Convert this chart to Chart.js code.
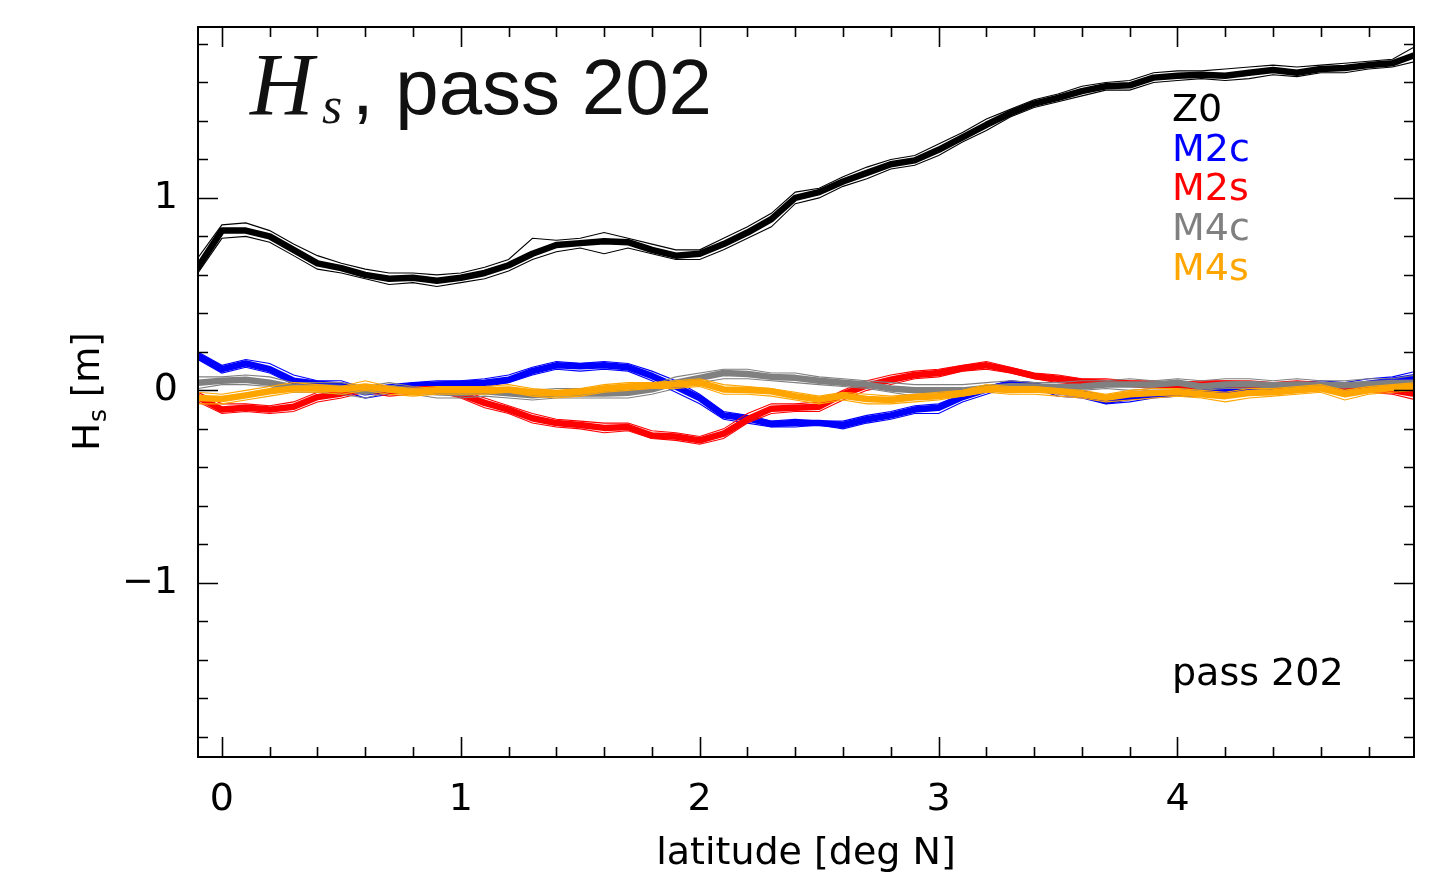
<!DOCTYPE html>
<html>
<head>
<meta charset="utf-8">
<script src="https://cdn.jsdelivr.net/npm/chart.js@4.4.1/dist/chart.umd.min.js"></script>
<style>
  html, body { margin: 0; padding: 0; background: #fff; }
  canvas { display: block; }
</style>
</head>
<body>
<canvas id="chart" width="1442" height="873"></canvas>
<script>
// latitude grid [deg N]
const lat = [-0.1, 0.0, 0.1, 0.2, 0.3, 0.4, 0.5, 0.6, 0.7, 0.8, 0.9, 1.0, 1.1, 1.2, 1.3, 1.4, 1.5, 1.6, 1.7, 1.8,
  1.9, 2.0, 2.1, 2.2, 2.3, 2.4, 2.5, 2.6, 2.7, 2.8, 2.9, 3.0, 3.1, 3.2, 3.3, 3.4, 3.5, 3.6, 3.7, 3.8,
  3.9, 4.0, 4.1, 4.2, 4.3, 4.4, 4.5, 4.6, 4.7, 4.8, 4.9, 5.0];

// Hs harmonics [m]: mean (thick) and two thin estimates
const z0 = [0.64, 0.83, 0.83, 0.80, 0.73, 0.66, 0.635, 0.60, 0.58, 0.585, 0.57, 0.585, 0.61, 0.65, 0.71, 0.755, 0.765, 0.775, 0.77, 0.73,
  0.70, 0.71, 0.76, 0.82, 0.89, 1.00, 1.03, 1.085, 1.13, 1.175, 1.195, 1.25, 1.315, 1.38, 1.44, 1.49, 1.52, 1.555, 1.58, 1.585,
  1.625, 1.635, 1.64, 1.635, 1.65, 1.665, 1.65, 1.67, 1.675, 1.69, 1.70, 1.745];
const z0Hi = [0.69, 0.86, 0.87, 0.83, 0.76, 0.70, 0.66, 0.63, 0.61, 0.61, 0.60, 0.61, 0.64, 0.68, 0.79, 0.78, 0.79, 0.82, 0.79, 0.76,
  0.73, 0.73, 0.79, 0.85, 0.92, 1.03, 1.05, 1.11, 1.16, 1.20, 1.22, 1.28, 1.34, 1.41, 1.46, 1.51, 1.54, 1.58, 1.60, 1.61,
  1.65, 1.66, 1.66, 1.67, 1.68, 1.69, 1.68, 1.69, 1.70, 1.71, 1.72, 1.79];
const z0Lo = [0.61, 0.79, 0.80, 0.77, 0.70, 0.63, 0.61, 0.58, 0.55, 0.56, 0.54, 0.56, 0.58, 0.62, 0.68, 0.72, 0.74, 0.71, 0.74, 0.71,
  0.68, 0.68, 0.73, 0.79, 0.85, 0.97, 1.00, 1.06, 1.10, 1.15, 1.17, 1.22, 1.29, 1.35, 1.42, 1.47, 1.50, 1.53, 1.56, 1.56,
  1.60, 1.61, 1.62, 1.61, 1.62, 1.64, 1.63, 1.65, 1.65, 1.67, 1.68, 1.71];

const m2c = [0.18, 0.11, 0.14, 0.11, 0.05, 0.035, 0.025, -0.01, 0.005, 0.025, 0.03, 0.035, 0.04, 0.055, 0.10, 0.13, 0.125, 0.13, 0.12, 0.075,
  0.02, -0.04, -0.13, -0.145, -0.175, -0.17, -0.17, -0.18, -0.15, -0.13, -0.10, -0.09, -0.035, 0.005, 0.035, 0.025, -0.005, -0.02, -0.055, -0.035,
  -0.02, -0.015, -0.01, 0.0, 0.0, 0.005, 0.02, 0.02, 0.015, 0.035, 0.05, 0.07];
const m2cHi = [0.20, 0.13, 0.16, 0.14, 0.08, 0.05, 0.05, 0.01, 0.03, 0.04, 0.05, 0.05, 0.06, 0.08, 0.12, 0.15, 0.14, 0.15, 0.14, 0.10,
  0.05, -0.02, -0.11, -0.13, -0.16, -0.15, -0.16, -0.16, -0.13, -0.11, -0.08, -0.07, -0.02, 0.02, 0.05, 0.04, 0.01, 0.0, -0.03, -0.01,
  0.0, 0.0, 0.01, 0.02, 0.03, 0.03, 0.04, 0.05, 0.04, 0.06, 0.07, 0.10];
const m2cLo = [0.16, 0.09, 0.12, 0.09, 0.03, 0.01, 0.00, -0.04, -0.02, 0.01, 0.01, 0.02, 0.02, 0.04, 0.08, 0.11, 0.10, 0.11, 0.10, 0.05,
  -0.01, -0.07, -0.15, -0.17, -0.19, -0.19, -0.18, -0.20, -0.17, -0.15, -0.12, -0.12, -0.06, -0.02, 0.02, 0.01, -0.03, -0.04, -0.07, -0.06,
  -0.04, -0.03, -0.03, -0.02, -0.02, -0.01, 0.0, 0.0, -0.01, 0.02, 0.03, 0.05];

const m2s = [-0.035, -0.10, -0.09, -0.10, -0.085, -0.035, -0.016, 0.01, -0.005, 0.0, 0.005, -0.02, -0.065, -0.10, -0.145, -0.17, -0.18, -0.195, -0.19, -0.235,
  -0.24, -0.26, -0.225, -0.15, -0.095, -0.09, -0.085, -0.02, 0.025, 0.055, 0.08, 0.09, 0.115, 0.13, 0.105, 0.075, 0.06, 0.045, 0.04, 0.035,
  0.03, 0.025, 0.03, 0.035, 0.03, 0.025, 0.03, 0.025, 0.02, 0.01, 0.0, -0.02];
const m2sHi = [-0.01, -0.07, -0.07, -0.08, -0.06, -0.01, 0.0, 0.03, 0.01, 0.02, 0.02, 0.0, -0.04, -0.08, -0.12, -0.15, -0.16, -0.17, -0.17, -0.21,
  -0.22, -0.24, -0.20, -0.12, -0.07, -0.07, -0.06, 0.0, 0.05, 0.08, 0.10, 0.11, 0.13, 0.15, 0.12, 0.09, 0.08, 0.06, 0.06, 0.05,
  0.05, 0.04, 0.05, 0.05, 0.05, 0.04, 0.05, 0.04, 0.04, 0.03, 0.02, 0.01];
const m2sLo = [-0.06, -0.12, -0.11, -0.12, -0.11, -0.06, -0.04, -0.01, -0.03, -0.02, -0.01, -0.04, -0.09, -0.12, -0.17, -0.19, -0.20, -0.22, -0.21, -0.25,
  -0.26, -0.28, -0.25, -0.17, -0.12, -0.11, -0.11, -0.05, 0.0, 0.03, 0.06, 0.07, 0.10, 0.11, 0.09, 0.06, 0.04, 0.03, 0.02, 0.02,
  0.01, 0.01, 0.01, 0.02, 0.01, 0.01, 0.01, 0.0, 0.0, -0.01, -0.02, -0.05];

const m4c = [0.04, 0.05, 0.055, 0.04, 0.015, 0.016, 0.012, -0.008, 0.012, 0.0, -0.01, -0.015, -0.005, -0.015, -0.026, -0.016, -0.016, -0.016, -0.012, 0.005,
  0.04, 0.065, 0.09, 0.085, 0.07, 0.065, 0.05, 0.04, 0.03, 0.01, 0.0, 0.0, 0.0, 0.012, 0.022, 0.02, 0.016, 0.02, 0.03, 0.03,
  0.03, 0.04, 0.02, 0.03, 0.033, 0.026, 0.03, 0.028, 0.026, 0.033, 0.038, 0.04];
const m4cHi = [0.07, 0.07, 0.08, 0.07, 0.04, 0.04, 0.04, 0.02, 0.04, 0.02, 0.01, 0.01, 0.02, 0.01, 0.0, 0.01, 0.01, 0.01, 0.01, 0.03,
  0.07, 0.09, 0.11, 0.11, 0.09, 0.09, 0.07, 0.06, 0.05, 0.04, 0.03, 0.03, 0.03, 0.04, 0.05, 0.04, 0.04, 0.05, 0.05, 0.06,
  0.05, 0.06, 0.05, 0.06, 0.06, 0.05, 0.06, 0.05, 0.05, 0.06, 0.06, 0.08];
const m4cLo = [0.01, 0.03, 0.03, 0.02, -0.01, -0.01, -0.02, -0.04, -0.01, -0.02, -0.04, -0.04, -0.03, -0.04, -0.05, -0.04, -0.04, -0.04, -0.04, -0.02,
  0.01, 0.04, 0.06, 0.06, 0.05, 0.04, 0.03, 0.02, 0.01, -0.01, -0.03, -0.02, -0.03, -0.01, 0.0, 0.0, -0.01, 0.0, 0.01, 0.0,
  0.01, 0.01, 0.0, 0.01, 0.01, 0.0, 0.01, 0.0, 0.0, 0.01, 0.01, 0.02];

const m4s = [-0.04, -0.045, -0.026, -0.005, 0.01, 0.01, 0.005, 0.02, 0.005, -0.01, 0.0, 0.0, 0.0, 0.005, -0.01, -0.016, -0.008, 0.01, 0.02, 0.026,
  0.03, 0.04, 0.005, 0.002, -0.005, -0.03, -0.048, -0.028, -0.045, -0.05, -0.036, -0.03, -0.015, 0.008, 0.002, 0.004, -0.005, -0.02, -0.038, -0.02,
  -0.014, -0.01, -0.02, -0.03, -0.014, -0.01, 0.0, 0.01, -0.02, 0.0, 0.012, 0.02];
const m4sHi = [-0.01, -0.02, 0.0, 0.02, 0.04, 0.03, 0.02, 0.05, 0.02, 0.01, 0.02, 0.02, 0.02, 0.03, 0.01, 0.0, 0.01, 0.03, 0.04, 0.04,
  0.05, 0.06, 0.03, 0.02, 0.01, -0.01, -0.03, -0.01, -0.02, -0.03, -0.02, -0.01, 0.0, 0.03, 0.02, 0.02, 0.01, 0.0, -0.02, 0.0,
  0.01, 0.01, 0.0, -0.01, 0.01, 0.01, 0.02, 0.03, 0.0, 0.02, 0.03, 0.04];
const m4sLo = [-0.07, -0.07, -0.05, -0.03, -0.01, -0.01, -0.02, 0.0, -0.02, -0.03, -0.02, -0.02, -0.02, -0.01, -0.03, -0.04, -0.03, -0.01, 0.0, 0.01,
  0.01, 0.02, -0.02, -0.02, -0.03, -0.05, -0.07, -0.05, -0.07, -0.07, -0.06, -0.05, -0.03, -0.01, -0.02, -0.02, -0.03, -0.04, -0.06, -0.05,
  -0.04, -0.03, -0.04, -0.06, -0.04, -0.03, -0.02, -0.01, -0.05, -0.02, -0.01, 0.0];

const seriesNames = ['Z0', 'M2c', 'M2s', 'M4c', 'M4s'];
const seriesColors = ['#000000', '#0000ff', '#ff0000', '#808080', '#ffa500'];
const seriesMean = [z0, m2c, m2s, m4c, m4s];
const seriesHi = [z0Hi, m2cHi, m2sHi, m4cHi, m4sHi];
const seriesLo = [z0Lo, m2cLo, m2sLo, m4cLo, m4sLo];

const xTicks = [0, 1, 2, 3, 4];
const yTicks = [-1, 0, 1];
const passLabel = 'pass 202';

const toPts = arr => arr.map((v, i) => ({ x: lat[i], y: v }));

const datasets = [];
seriesNames.forEach((name, k) => {
  [seriesHi[k], seriesLo[k]].forEach(arr => {
    datasets.push({ data: toPts(arr), borderColor: seriesColors[k], borderWidth: 1.1, pointRadius: 0 });
  });
  datasets.push({ label: name, data: toPts(seriesMean[k]), borderColor: seriesColors[k], borderWidth: 6.5,
    borderJoinStyle: 'round', borderCapStyle: 'round', pointRadius: 0 });
});
datasets.forEach((d, i) => { d.order = datasets.length - i; d.tension = 0; });

const FONT = '"DejaVu Sans", sans-serif';

const decor = {
  id: 'decor',
  afterDraw(chart) {
    const { ctx, chartArea: a } = chart;
    const xs = chart.scales.x, ys = chart.scales.y;
    ctx.save();
    ctx.strokeStyle = '#000';
    ctx.lineWidth = 2;
    ctx.strokeRect(a.left, a.top, a.right - a.left, a.bottom - a.top);

    // inward ticks on all four sides
    ctx.lineWidth = 1.6;
    ctx.beginPath();
    for (let i = 0; i <= 25; i++) {
      const v = i * 0.2;
      if (v > xs.max) break;
      const len = xTicks.some(t => Math.abs(t - v) < 1e-6) ? 20 : 10;
      const px = Math.round(xs.getPixelForValue(v)) + 0.5;
      ctx.moveTo(px, a.bottom); ctx.lineTo(px, a.bottom - len);
      ctx.moveTo(px, a.top); ctx.lineTo(px, a.top + len);
    }
    for (let i = -9; i <= 9; i++) {
      const v = i * 0.2;
      if (v < ys.min || v > ys.max) continue;
      const len = yTicks.some(t => Math.abs(t - v) < 1e-6) ? 20 : 10;
      const py = Math.round(ys.getPixelForValue(v)) + 0.5;
      ctx.moveTo(a.left, py); ctx.lineTo(a.left + len, py);
      ctx.moveTo(a.right, py); ctx.lineTo(a.right - len, py);
    }
    ctx.stroke();

    // big title
    ctx.fillStyle = '#111';
    ctx.textBaseline = 'alphabetic';
    ctx.textAlign = 'left';
    ctx.font = 'italic 88px "Liberation Serif", serif';
    ctx.fillText('H', 250, 114);
    ctx.font = 'italic 52px "Liberation Serif", serif';
    ctx.fillText('s', 322, 123);
    ctx.font = '78px "Liberation Sans", Arial, sans-serif';
    ctx.fillText(', ' + passLabel, 352, 114);

    // legend text
    ctx.font = '38px ' + FONT;
    ctx.textBaseline = 'middle';
    seriesNames.forEach((n, k) => {
      ctx.fillStyle = seriesColors[k];
      ctx.fillText(n, 1172, 111 + k * 39.8);
    });
    ctx.fillStyle = '#000';
    ctx.fillText(passLabel, 1172, 675);

    // x axis title
    ctx.textAlign = 'center';
    ctx.textBaseline = 'alphabetic';
    ctx.fillText('latitude [deg N]', (a.left + a.right) / 2, 864);

    // y axis title with subscript
    ctx.translate(99, (a.top + a.bottom) / 2);
    ctx.rotate(-Math.PI / 2);
    ctx.textAlign = 'left';
    ctx.font = '37px ' + FONT;
    const wH = ctx.measureText('H').width, wM = ctx.measureText(' [m]').width;
    ctx.font = '25px ' + FONT;
    const wS = ctx.measureText('s').width;
    let x0 = -(wH + wS + wM) / 2;
    ctx.font = '37px ' + FONT;
    ctx.fillText('H', x0, 0);
    ctx.font = '25px ' + FONT;
    ctx.fillText('s', x0 + wH + 1, 7);
    ctx.font = '37px ' + FONT;
    ctx.fillText(' [m]', x0 + wH + wS + 1, 0);
    ctx.restore();
  }
};

new Chart(document.getElementById('chart'), {
  type: 'line',
  data: { datasets },
  options: {
    responsive: false,
    animation: false,
    events: [],
    layout: { padding: { top: 27, right: 28, left: 0, bottom: 0 } },
    plugins: { legend: { display: false }, tooltip: { enabled: false } },
    scales: {
      x: {
        type: 'linear', min: -0.1, max: 4.99,
        grid: { display: false, drawTicks: false },
        border: { display: false },
        afterBuildTicks: s => { s.ticks = xTicks.map(v => ({ value: v })); },
        afterFit: s => { s.height = 116; s.paddingLeft = 0; s.paddingRight = 0; },
        ticks: { color: '#000', font: { family: 'DejaVu Sans', size: 38 }, padding: 20, maxRotation: 0,
          callback: v => String(v) }
      },
      y: {
        type: 'linear', min: -1.905, max: 1.888,
        grid: { display: false, drawTicks: false },
        border: { display: false },
        afterBuildTicks: s => { s.ticks = yTicks.map(v => ({ value: v })); },
        afterFit: s => { s.width = 198; s.paddingTop = 0; s.paddingBottom = 0; },
        ticks: { color: '#000', font: { family: 'DejaVu Sans', size: 38 }, padding: 20,
          callback: v => (v < 0 ? '\u2212' + Math.abs(v) : String(v)) }
      }
    }
  },
  plugins: [decor]
});
</script>
</body>
</html>
